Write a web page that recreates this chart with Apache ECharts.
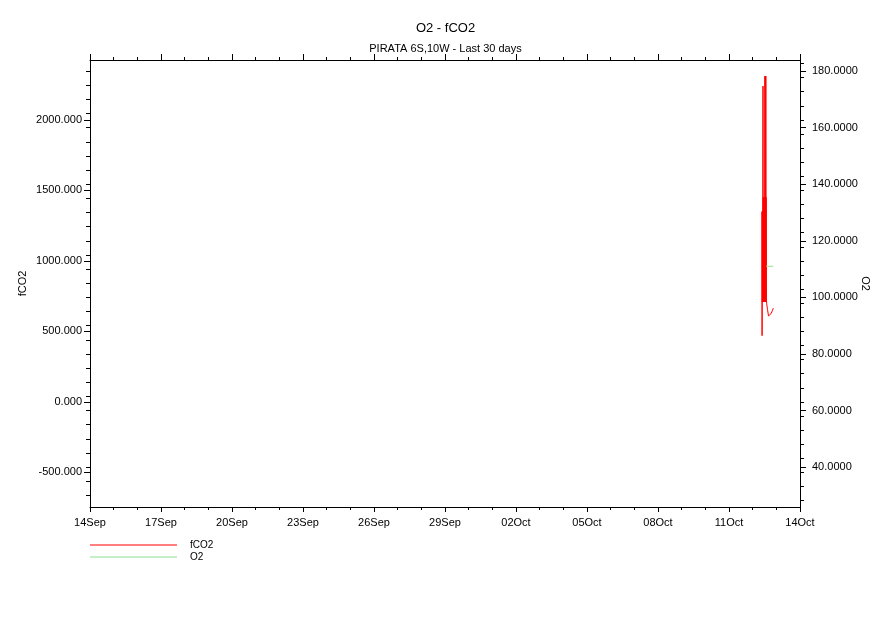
<!DOCTYPE html>
<html><head><meta charset="utf-8">
<script src="https://cdn.jsdelivr.net/npm/echarts@6/dist/echarts.min.js"></script>
<style>html,body{margin:0;padding:0;background:#fff}#c{width:891px;height:630px}</style>
</head><body><div id="c"></div>
<script>
// x axis: days since 14Sep 00:00
const xTickLabels = ['14Sep','17Sep','20Sep','23Sep','26Sep','29Sep','02Oct','05Oct','08Oct','11Oct','14Oct'];
const fco2TickValues = [-500, 0, 500, 1000, 1500, 2000];
const o2TickValues = [40, 60, 80, 100, 120, 140, 160, 180];

const fco2Days = [28.394, 28.398, 28.402, 28.410, 28.416, 28.424, 28.430, 28.436, 28.442, 28.448,
                  28.456, 28.464, 28.472, 28.480, 28.488, 28.496, 28.504, 28.512, 28.520, 28.526,
                  28.532, 28.538, 28.544, 28.550, 28.556, 28.562, 28.570, 28.580, 28.592, 28.605,
                  28.630, 28.668, 28.700, 28.732, 28.770, 28.804, 28.840, 28.871];
const fco2Values = [1350, 470, 1350, 711, 1350, 711, 1350, 2240, 711, 1450,
                    711, 1450, 711, 1450, 711, 1450, 711, 1450, 2310, 711,
                    2310, 711, 2310, 711, 2310, 711, 1450, 720, 700, 680,
                    654, 610, 598, 600, 625, 635, 650, 665];

const o2Days = [28.57, 28.87];
const o2Values = [111, 111];

const fco2Minor = []; for (let v = -700; v <= 2400; v += 100) fco2Minor.push(v);
const o2Minor = []; for (let v = 30; v <= 180; v += 5) o2Minor.push(v);

const FONT = 'Liberation Sans';
const chart = echarts.init(document.getElementById('c'), null, {renderer: 'canvas'});
const black = '#000';
chart.setOption({
  animation: false,
  backgroundColor: '#fff',
  textStyle: {fontFamily: FONT, color: black},
  title: [
    {text: 'O2 - fCO2', left: 'center', top: 17, textStyle: {fontSize: 13, fontWeight: 'normal', color: black, fontFamily: FONT}},
    {text: 'PIRATA 6S,10W - Last 30 days', left: 'center', top: 38, textStyle: {fontSize: 11, fontWeight: 'normal', color: black, fontFamily: FONT}}
  ],
  legend: {
    left: 90, top: 539, orient: 'vertical', padding: 0, itemWidth: 87, itemHeight: 1, itemGap: 0, icon: 'rect',
    textStyle: {fontSize: 10, color: black, fontFamily: FONT, padding: [0, 0, 0, 8], lineHeight: 12},
    data: ['fCO2', 'O2']
  },
  grid: {left: 90, right: 91, top: 60, bottom: 123, containLabel: false},
  xAxis: [
    {type: 'value', min: 0, max: 30, interval: 3, position: 'bottom',
     axisLine: {show: true, onZero: false, lineStyle: {color: black, width: 1}},
     axisTick: {show: true, inside: false, length: 5, lineStyle: {color: black}},
     minorTick: {show: true, splitNumber: 3, length: 3, lineStyle: {color: black}},
     axisLabel: {show: true, margin: 10, fontSize: 11, color: black, fontFamily: FONT,
                 formatter: v => xTickLabels[Math.round(v / 3)]},
     splitLine: {show: false}, minorSplitLine: {show: false}},
    {type: 'value', min: 0, max: 30, interval: 3, position: 'top',
     axisLine: {show: true, onZero: false, lineStyle: {color: black, width: 1}},
     axisTick: {show: true, inside: false, length: 6, lineStyle: {color: black}},
     minorTick: {show: true, splitNumber: 3, length: 3, lineStyle: {color: black}},
     axisLabel: {show: false}, splitLine: {show: false}}
  ],
  yAxis: [
    {type: 'value', min: -745, max: 2425, position: 'left',
     axisLine: {show: true, onZero: false, lineStyle: {color: black, width: 1}},
     axisTick: {show: true, inside: false, length: 6, customValues: fco2TickValues, lineStyle: {color: black}},
     axisLabel: {show: true, customValues: fco2TickValues, margin: 8, fontSize: 11, color: black, fontFamily: FONT,
                 formatter: v => v.toFixed(3)},
     name: 'fCO2', nameLocation: 'middle', nameRotate: 90, nameGap: 62, nameMoveOverlap: false,
     nameTextStyle: {fontSize: 11, color: black, fontFamily: FONT},
     splitLine: {show: false}},
    {type: 'value', min: 25.9, max: 183.9, position: 'right',
     axisLine: {show: true, onZero: false, lineStyle: {color: black, width: 1}},
     axisTick: {show: true, inside: false, length: 6, customValues: o2TickValues, lineStyle: {color: black}},
     axisLabel: {show: true, customValues: o2TickValues, margin: 12, fontSize: 11, color: black, fontFamily: FONT,
                 formatter: v => v.toFixed(4)},
     name: 'O2', nameLocation: 'middle', nameRotate: -90, nameGap: 60, nameMoveOverlap: false,
     nameTextStyle: {fontSize: 11, color: black, fontFamily: FONT},
     splitLine: {show: false}},
    // minor-tick axes: ECharts moves an axis to the opposite side when its side is taken,
    // so 'right' here ends up on the left (fCO2) and 'left' ends up on the right (O2)
    {type: 'value', min: -745, max: 2425, position: 'right',
     axisLine: {show: false, onZero: false},
     axisTick: {show: true, inside: false, length: 4, customValues: fco2Minor, lineStyle: {color: black}},
     axisLabel: {show: false}, splitLine: {show: false}},
    {type: 'value', min: 25.9, max: 183.9, position: 'left',
     axisLine: {show: false, onZero: false},
     axisTick: {show: true, inside: false, length: 4, customValues: o2Minor, lineStyle: {color: black}},
     axisLabel: {show: false}, splitLine: {show: false}}
  ],
  series: [
    {name: 'fCO2', type: 'line', xAxisIndex: 0, yAxisIndex: 0, symbol: 'none', showSymbol: false,
     color: '#ff0000', lineStyle: {color: '#ff0000', width: 1},
     data: fco2Days.map((d, i) => [d, fco2Values[i]])},
    {name: 'O2', type: 'line', xAxisIndex: 0, yAxisIndex: 1, symbol: 'none', showSymbol: false,
     color: '#90e090', lineStyle: {color: '#90e090', width: 1},
     data: o2Days.map((d, i) => [d, o2Values[i]])}
  ]
});
</script></body></html>
